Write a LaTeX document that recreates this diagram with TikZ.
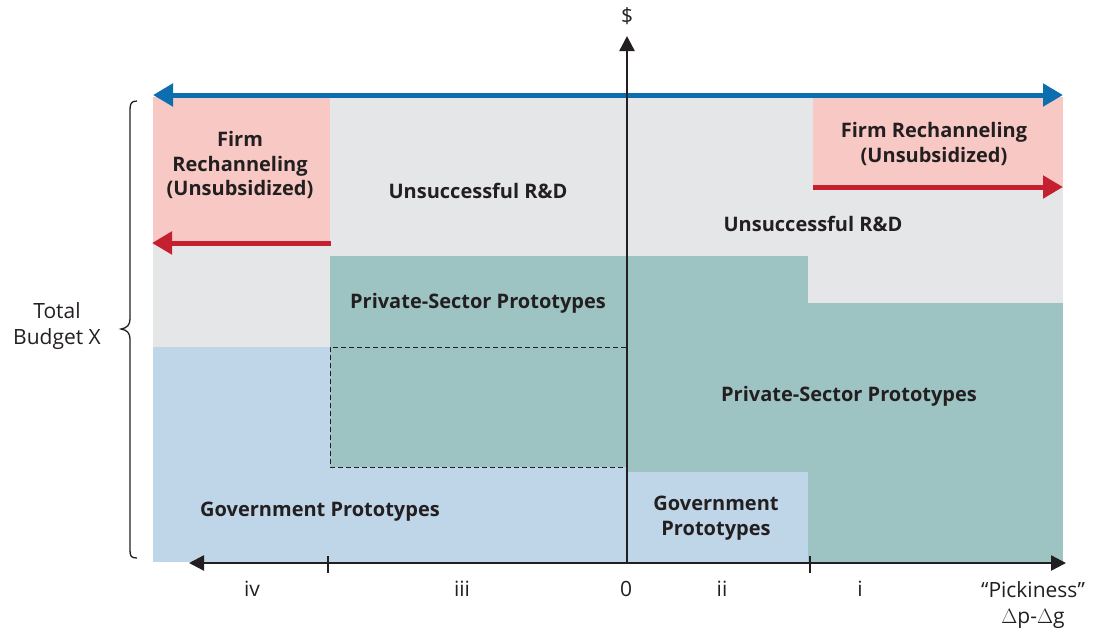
\documentclass[tikz,border=0pt]{standalone}
\usepackage{fontspec}
\setmainfont{Open Sans}
\usetikzlibrary{arrows.meta}
\definecolor{bggray}{HTML}{E5E6E8}
\definecolor{pinkbox}{HTML}{F8C8C4}
\definecolor{tealbox}{HTML}{9DC4C3}
\definecolor{bluebox}{HTML}{BFD5E8}
\definecolor{bluearrow}{HTML}{0B6FAF}
\definecolor{redarrow}{HTML}{C4202F}
\definecolor{ink}{HTML}{231F20}
\tikzset{
  lbl/.style={font=\fontsize{20}{24.5}\selectfont\bfseries, text=ink, align=center, inner sep=0pt},
  axlbl/.style={font=\fontsize{21}{26}\selectfont, text=ink, align=center, inner sep=0pt},
  bigarrow/.style={line width=5pt, -{Triangle[length=20pt,width=22pt]}},
  axisline/.style={draw=ink, line width=2.4pt},
  dashedline/.style={draw=ink, line width=1pt, dash pattern=on 5pt off 3pt},
}
\begin{document}
\begin{tikzpicture}[x=1pt,y=-1pt]
\useasboundingbox (0,0) rectangle (1099,627);
% regions
\fill[bggray] (153,97) rectangle (1063,562);
\fill[pinkbox] (153,97) rectangle (330,245);
\fill[pinkbox] (813,97) rectangle (1063,188);
\fill[bluebox] (153,347) rectangle (628,562);
\fill[tealbox] (330,256) rectangle (628,467);
\fill[tealbox] (628,256) rectangle (808,472);
\fill[tealbox] (808,303) rectangle (1063,562);
\fill[bluebox] (628,472) rectangle (808,562);
% dashed rectangle
\draw[dashedline] (626,347) -- (330,347) -- (330,467) -- (626,467);
% coordinates
\coordinate (bl) at (153,95);
\coordinate (br) at (1063,95);
\coordinate (rlA) at (331,243);
\coordinate (rlB) at (152,243);
\coordinate (rrA) at (813,187);
\coordinate (rrB) at (1063,187);
\coordinate (vBot) at (627,563);
\coordinate (vTop) at (627,36);
\coordinate (hL) at (189,563);
\coordinate (hR) at (1066,563);
\coordinate (t1a) at (328,556);
\coordinate (t1b) at (328,573);
\coordinate (t2a) at (810,556);
\coordinate (t2b) at (810,573);
% arrows
\draw[bigarrow, draw=bluearrow, fill=bluearrow, {Triangle[length=20pt,width=22pt]}-{Triangle[length=20pt,width=22pt]}] (bl) -- (br);
\draw[bigarrow, draw=redarrow, fill=redarrow] (rlA) -- (rlB);
\draw[bigarrow, draw=redarrow, fill=redarrow] (rrA) -- (rrB);
\draw[axisline, -{Triangle[length=15pt,width=15pt]}] (vBot) -- (vTop);
\draw[axisline, {Triangle[length=15pt,width=15pt]}-{Triangle[length=15pt,width=15pt]}] (hL) -- (hR);
\draw[draw=ink, line width=1.2pt] (t1a) -- (t1b);
\draw[draw=ink, line width=1.2pt] (t2a) -- (t2b);
% brace
\draw[draw=ink, line width=1.3pt] (137,101) .. controls (131,101) and (130,104) .. (130,110) -- (130,319) .. controls (130,325) and (127,328) .. (121,329) .. controls (127,330) and (130,333) .. (130,339) -- (130,550) .. controls (130,556) and (131,558) .. (137,558);
% labels
\node[axlbl] (dollar) at (627,16) {\$};
\node[axlbl] (total) at (57,326) {Total\\Budget X};
\node[lbl] (frL) at (240,165) {Firm\\Rechanneling\\(Unsubsidized)};
\node[lbl] (urdL) at (478,191) {Unsuccessful R\&D};
\node[lbl] (frR) at (934,144) {Firm Rechanneling\\(Unsubsidized)};
\node[lbl] (urdR) at (813,224) {Unsuccessful R\&D};
\node[lbl] (pspL) at (478,303) {Private-Sector Prototypes};
\node[lbl] (pspR) at (849,396) {Private-Sector Prototypes};
\node[lbl] (gpL) at (320,512) {Government Prototypes};
\node[lbl] (gpR) at (716,518) {Government\\Prototypes};
\node[axlbl] (xiv) at (252,589) {iv};
\node[axlbl] (xiii) at (462,589) {iii};
\node[axlbl] (x0) at (626,589) {0};
\node[axlbl] (xii) at (722,589) {ii};
\node[axlbl] (xi) at (860,589) {i};
\node[axlbl] (pick) at (1033,605) {“Pickiness”\\$\Delta$p-$\Delta$g};
\end{tikzpicture}
\end{document}
